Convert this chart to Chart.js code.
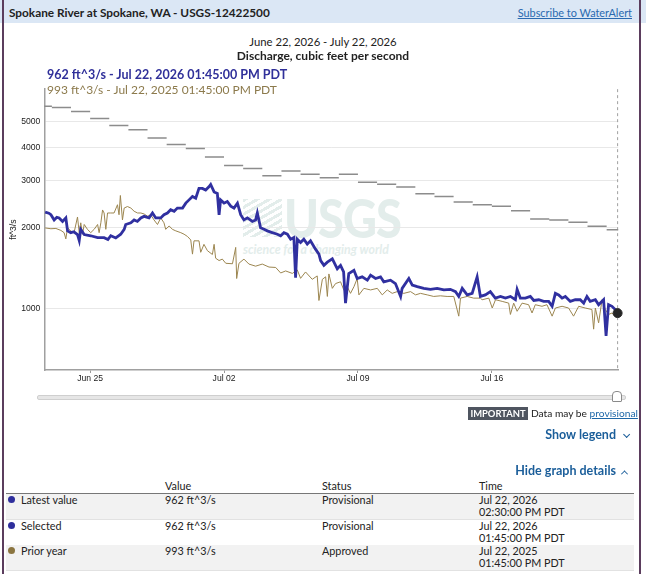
<!DOCTYPE html>
<html>
<head>
<meta charset="utf-8">
<title>Spokane River at Spokane, WA - USGS-12422500</title>
<script src="https://cdn.jsdelivr.net/npm/chart.js@4.4.1/dist/chart.umd.min.js"></script>
<style>
body { margin: 0; background: #fff; font-family: Lato, "Open Sans", sans-serif; color: #222; }
#page { position: relative; width: 646px; height: 574px; overflow: hidden; }
.abs { position: absolute; white-space: nowrap; }
.header { left: 0; top: 0; width: 646px; height: 23px; background: #dbe7f5; }
.side { top: 0; width: 2px; height: 574px; background: #5b3d5d; }
.link { color: #2a6ab0; text-decoration: underline; }
.blue-btn { color: #1b5e9a; font-weight: bold; font-size: 12.5px; }
.chev { display: inline-block; width: 4px; height: 4px; border-right: 1.5px solid #1b5e9a; border-bottom: 1.5px solid #1b5e9a; margin-left: 6px; }
.down { transform: rotate(45deg) translateY(-3px); }
.up { transform: rotate(-135deg) translate(-1px, -1px); }
.row { left: 6px; width: 628px; height: 25px; border-bottom: 1px solid #e2e2e2; }
.cell { font-size: 10.8px; line-height: 12px; }
.dot { width: 7px; height: 7px; border-radius: 50%; }
#chartbox { position: absolute; left: 0; top: 80px; width: 646px; height: 320px; }
</style>
</head>
<body>
<div id="page">
  <div class="abs header"></div>
  <div class="abs" style="left:9px;top:5px;font-size:11.8px;font-weight:bold;line-height:15px;">Spokane River at Spokane, WA - USGS-12422500</div>
  <div class="abs link" style="right:14px;top:5px;font-size:10.9px;line-height:15px;">Subscribe to WaterAlert</div>

  <!-- USGS watermark behind the plot -->
  <div class="abs" style="left:243px;top:199px;width:39px;height:38px;background:repeating-linear-gradient(150deg,#e3edeb 0 3px,#fff 3px 6px);"></div>
  <div class="abs" style="left:284px;top:190px;font-size:47px;font-weight:900;color:#e3edeb;line-height:56px;transform:scaleY(1.12);letter-spacing:-1px;">USGS</div>
  <div class="abs" style="left:243px;top:242px;font-size:12.3px;font-weight:bold;font-style:italic;color:#e3edeb;line-height:15px;">science for a changing world</div>

  <div id="chartbox"><canvas id="flow-chart" width="646" height="320"></canvas></div>

  <div class="abs" style="left:0;width:646px;top:35px;text-align:center;font-size:11.3px;line-height:14px;">June 22, 2026 - July 22, 2026</div>
  <div class="abs" style="left:0;width:646px;top:49px;text-align:center;font-size:12px;font-weight:bold;line-height:14px;">Discharge, cubic feet per second</div>
  <div class="abs" style="left:47px;top:67px;font-size:12.5px;font-weight:bold;color:#30309a;line-height:16px;">962 ft^3/s - Jul 22, 2026 01:45:00 PM PDT</div>
  <div class="abs" style="left:47px;top:82px;font-size:12px;color:#8c7a4c;line-height:16px;">993 ft^3/s - Jul 22, 2025 01:45:00 PM PDT</div>

  <!-- brush slider -->
  <div class="abs" style="left:37px;top:395px;width:587px;height:3px;background:#e6e6e6;border:1px solid #cfcfcf;border-radius:2px;"></div>
  <div class="abs" style="left:612px;top:391px;width:8px;height:9px;background:#fff;border:1px solid #8a8a8a;border-radius:4px 4px 1px 1px;"></div>

  <div class="abs" style="left:468px;top:407px;width:60px;height:13px;background:#4f5560;color:#fff;font-size:9.4px;font-weight:bold;line-height:13px;text-align:center;">IMPORTANT</div>
  <div class="abs" style="left:531px;top:406px;font-size:10.2px;line-height:15px;">Data may be <span class="link" style="color:#1d67a8;">provisional</span></div>

  <div class="abs blue-btn" style="right:19px;top:427px;line-height:16px;">Show legend<span class="chev down"></span></div>
  <div class="abs blue-btn" style="right:19px;top:463px;line-height:16px;">Hide graph details<span class="chev up"></span></div>

  <!-- graph details table -->
  <div class="abs cell" style="left:165px;top:480px;">Value</div>
  <div class="abs cell" style="left:322px;top:480px;">Status</div>
  <div class="abs cell" style="left:479px;top:480px;">Time</div>
  <div class="abs" style="left:6px;top:493px;width:628px;height:1px;background:#777;"></div>

  <div class="abs row" style="top:494px;background:#f2f2f2;"></div>
  <div class="abs row" style="top:520px;background:#fff;"></div>
  <div class="abs row" style="top:545px;background:#f2f2f2;"></div>

  <div class="abs dot" style="left:8px;top:496px;background:#2e2e9c;"></div>
  <div class="abs cell" style="left:21px;top:494px;">Latest value</div>
  <div class="abs cell" style="left:165px;top:494px;">962 ft^3/s</div>
  <div class="abs cell" style="left:322px;top:494px;">Provisional</div>
  <div class="abs cell" style="left:479px;top:494px;">Jul 22, 2026</div>
  <div class="abs cell" style="left:479px;top:506px;">02:30:00 PM PDT</div>

  <div class="abs dot" style="left:8px;top:522px;background:#2e2e9c;"></div>
  <div class="abs cell" style="left:21px;top:520px;">Selected</div>
  <div class="abs cell" style="left:165px;top:520px;">962 ft^3/s</div>
  <div class="abs cell" style="left:322px;top:520px;">Provisional</div>
  <div class="abs cell" style="left:479px;top:520px;">Jul 22, 2026</div>
  <div class="abs cell" style="left:479px;top:532px;">01:45:00 PM PDT</div>

  <div class="abs dot" style="left:8px;top:547px;background:#8b7540;"></div>
  <div class="abs cell" style="left:21px;top:545px;">Prior year</div>
  <div class="abs cell" style="left:165px;top:545px;">993 ft^3/s</div>
  <div class="abs cell" style="left:322px;top:545px;">Approved</div>
  <div class="abs cell" style="left:479px;top:545px;">Jul 22, 2025</div>
  <div class="abs cell" style="left:479px;top:557px;">01:45:00 PM PDT</div>

  <div class="abs side" style="left:2px;"></div>
  <div class="abs side" style="left:639px;"></div>
</div>

<script>
// x values are days since Jun 22 00:00 (local time)
const xTickDays = [3, 10, 17, 24];
const xTickLabels = ['Jun 25', 'Jul 02', 'Jul 09', 'Jul 16'];
const yTicks = [1000, 2000, 3000, 4000, 5000];

// daily median, Jun 22 .. Jul 22
const medianFlow = [5690, 5630, 5440, 5120, 4820, 4650, 4330, 4100, 3960, 3680, 3420, 3330, 3130, 3260, 3170,
    3080, 3170, 2960, 2910, 2840, 2680, 2620, 2500, 2440, 2410, 2320, 2160, 2140, 2100, 2030, 1970];

// 2026 discharge
const currentDays = [0.65, 0.84, 0.95, 1.12, 1.26, 1.38, 1.56, 1.73, 1.82, 1.99, 2.15, 2.34, 2.43, 2.51, 2.69,
    3.03, 3.39, 3.73, 3.93, 4.08, 4.34, 4.50, 4.60, 4.78, 4.86, 5.13, 5.30, 5.47, 5.65, 5.82, 6.08, 6.26, 6.43,
    6.69, 6.86, 7.04, 7.21, 7.39, 7.56, 7.83, 8.00, 8.17, 8.35, 8.52, 8.69, 8.87, 9.04, 9.21, 9.30, 9.48, 9.65,
    9.74, 9.82, 10.00, 10.17, 10.35, 10.52, 10.70, 10.87, 11.04, 11.22, 11.48, 11.65, 11.74, 11.91, 12.09, 12.26,
    12.52, 12.79, 12.96, 13.13, 13.31, 13.48, 13.65, 13.74, 13.83, 14.00, 14.17, 14.35, 14.52, 14.78, 14.96,
    15.05, 15.22, 15.40, 15.66, 15.92, 16.09, 16.25, 16.35, 16.52, 16.79, 16.96, 17.22, 17.49, 17.66, 17.92,
    18.18, 18.35, 18.70, 18.96, 19.23, 19.31, 19.66, 19.84, 20.10, 20.44, 20.79, 21.14, 21.49, 21.83, 22.10,
    22.27, 22.45, 22.71, 22.97, 23.23, 23.40, 23.66, 23.92, 24.18, 24.45, 24.71, 24.97, 25.23, 25.32, 25.49,
    25.75, 26.01, 26.19, 26.45, 26.71, 26.97, 27.15, 27.32, 27.49, 27.67, 27.84, 28.10, 28.36, 28.62, 28.80,
    28.97, 29.14, 29.41, 29.58, 29.84, 29.97, 30.10, 30.28, 30.45, 30.573];
const currentFlow = [2290, 2270, 2240, 2140, 2190, 2180, 2115, 2180, 1950, 1920, 1935, 1890, 1795, 1975, 1890,
    1870, 1840, 1840, 1810, 1870, 1835, 1873, 1895, 1976, 2060, 2090, 2142, 2115, 2180, 2209, 2180, 2274, 2180,
    2180, 2240, 2274, 2340, 2308, 2372, 2372, 2475, 2545, 2619, 2581, 2809, 2809, 2769, 2849, 2904, 2725, 2692,
    2236, 2545, 2475, 2510, 2413, 2372, 2475, 2240, 2142, 2180, 2115, 2142, 2274, 2003, 1976, 1950,
    1920, 1895, 1868, 1920, 1895, 1816, 1841, 1303, 1816, 1765, 1816, 1740, 1790, 1667, 1597,
    1511, 1450, 1491, 1533, 1408, 1450, 1370, 1048, 1350, 1390, 1295, 1314, 1277, 1333, 1295,
    1314, 1259, 1277, 1240, 1110, 1190, 1295, 1224, 1207, 1190, 1180, 1190, 1174, 1180, 1157,
    1110, 1190, 1125, 1140, 1314, 1110, 1125, 1157, 1094, 1110, 1094, 1110, 1079, 1180, 1094,
    1094, 1110, 1072, 1079, 1064, 1064, 1020, 1140, 1125, 1094, 1110, 1064, 1079, 1079, 1048,
    1110, 1064, 1079, 1034, 1079, 791, 1034, 1020, 991, 962];

// 2025 discharge (prior year)
const priorDays = [0.65, 0.95, 1.21, 1.47, 1.64, 1.73, 1.82, 1.99, 2.16, 2.34, 2.43, 2.51, 2.60, 2.69, 2.86,
    3.03, 3.21, 3.39, 3.47, 3.56, 3.65, 3.73, 3.82, 3.91, 4.08, 4.25, 4.43, 4.51, 4.58, 4.69, 4.78, 4.95, 5.13,
    5.30, 5.48, 5.65, 5.82, 6.00, 6.17, 6.34, 6.52, 6.69, 6.86, 6.95, 7.13, 7.30, 7.48, 7.74, 7.91, 8.09, 8.26,
    8.35, 8.43, 8.69, 8.78, 8.95, 9.13, 9.39, 9.48, 9.56, 9.74, 9.91, 10.09, 10.44, 10.61, 10.66, 10.78, 11.04,
    11.30, 11.65, 12.00, 12.35, 12.70, 12.96, 13.22, 13.57, 13.83, 14.00, 14.26, 14.61, 14.87, 14.96, 15.14,
    15.31, 15.40, 15.48, 15.66, 15.83, 16.09, 16.26, 16.44, 16.61, 16.79, 16.96, 17.05, 17.31, 17.66, 18.01,
    18.27, 18.53, 18.79, 19.05, 19.40, 19.75, 20.01, 20.27, 20.62, 20.96, 21.31, 21.66, 22.01, 22.27, 22.36,
    22.71, 23.05, 23.40, 23.49, 23.84, 24.02, 24.19, 24.54, 24.88, 24.97, 25.14, 25.32, 25.58, 25.92, 26.10,
    26.27, 26.62, 26.88, 27.15, 27.32, 27.67, 28.01, 28.27, 28.54, 28.88, 29.23, 29.32, 29.41, 29.58, 29.76,
    29.93, 30.10, 30.28, 30.45, 30.573];
const priorFlow = [2000, 1986, 1991, 1958, 1920, 1820, 2003, 1947, 1920, 2197, 1920, 2090, 1895, 2060, 1976,
    1920, 1976, 2060, 1920, 2090, 2334, 2274, 1976, 2274, 2274, 2274, 2441, 2240, 2643, 2142, 2372, 2404, 2372,
    2308, 2274, 2274, 2255, 2212, 2240, 2142, 2060, 2180, 2090, 1976, 2034, 1976, 1950, 1920, 1895, 1858, 1804,
    1597, 1790, 1790, 1622, 1737, 1645, 1592, 1737, 1542, 1511, 1530, 1476, 1470, 1692, 1295, 1476, 1530,
    1466, 1440, 1466, 1429, 1424, 1358, 1382, 1353, 1393, 1297, 1370, 1286, 1324, 1072, 1286,
    1314, 1110, 1347, 1190, 1240, 1259, 1174, 1207, 1140, 1207, 1295, 1125, 1190, 1174, 1190,
    1125, 1174, 1140, 1157, 1140, 1157, 1125, 1140, 1125, 1110, 1116, 1110, 1110, 937, 1094,
    1110, 1094, 1094, 1079, 1094, 1005, 1079, 1064, 1048, 951, 1048, 977, 1048, 1034, 963,
    1034, 1020, 1034, 937, 1005, 1020, 1005, 937, 1020, 1005, 992, 838, 1005, 885, 1079,
    992, 951, 963, 937, 993];

const selectedDay = 30.573;   // Jul 22 01:45 PM
const selectedFlow = 962;

var medianPoints = [];
medianFlow.forEach((v, d) => {
    medianPoints.push({x: d, y: v}, {x: d + 1, y: v}, {x: d + 1, y: null});
});

function toPoints(days, flows) {
    return days.map((d, i) => ({x: d, y: flows[i]}));
}

// dashed vertical line at the selected time
const cursorLine = {
    id: 'cursorLine',
    beforeDatasetsDraw(chart) {
        const ctx = chart.ctx;
        const x = chart.scales.x.getPixelForValue(selectedDay);
        ctx.save();
        ctx.strokeStyle = '#a0a0a0';
        ctx.lineWidth = 1;
        ctx.setLineDash([3, 3]);
        ctx.beginPath();
        ctx.moveTo(x, chart.chartArea.top);
        ctx.lineTo(x, chart.chartArea.bottom);
        ctx.stroke();
        ctx.restore();
    }
};

var flow_chart = document.getElementById('flow-chart').getContext('2d');

var chart_flow = new Chart(flow_chart, {
    type: 'line',
    data: {
        datasets: [{
            label: 'Selected',
            data: [{x: selectedDay, y: selectedFlow}],
            showLine: false,
            pointRadius: 4.5,
            pointBackgroundColor: '#262626',
            pointBorderColor: '#262626',
            clip: false,
            order: 0
        }, {
            label: 'Discharge 2026',
            data: toPoints(currentDays, currentFlow),
            borderColor: '#3030a0',
            borderWidth: 2.8,
            pointRadius: 0,
            tension: 0,
            order: 1
        }, {
            label: 'Prior year',
            data: toPoints(priorDays, priorFlow),
            borderColor: '#9c8650',
            borderWidth: 1,
            pointRadius: 0,
            tension: 0,
            order: 2
        }, {
            label: 'Median',
            data: medianPoints,
            borderColor: '#8c8c8c',
            borderWidth: 1.5,
            pointRadius: 0,
            spanGaps: false,
            order: 3
        }]
    },
    options: {
        responsive: false,
        maintainAspectRatio: false,
        animation: false,
        layout: { padding: { left: 0, right: 27.8, top: 4, bottom: 10 } },
        plugins: {
            legend: { display: false },
            tooltip: { enabled: false }
        },
        scales: {
            x: {
                type: 'linear',
                min: 0.604,
                max: 30.604,
                afterBuildTicks: scale => { scale.ticks = xTickDays.map(v => ({ value: v })); },
                afterFit: scale => { scale.height = 20; },
                ticks: {
                    callback: (v, i) => xTickLabels[i],
                    font: { family: 'Liberation Sans', size: 8.6 },
                    color: '#222',
                    padding: 0,
                    maxRotation: 0,
                    autoSkip: false
                },
                grid: { drawOnChartArea: false, tickLength: 3, color: '#999' },
                border: { color: '#a0a0a0', width: 1.5 }
            },
            y: {
                type: 'logarithmic',
                min: 590,
                max: 6590,
                afterBuildTicks: scale => { scale.ticks = yTicks.map(v => ({ value: v })); },
                afterFit: scale => { scale.width = 44.3; },
                ticks: {
                    callback: v => String(v),
                    font: { family: 'Liberation Sans', size: 8.6 },
                    color: '#222',
                    padding: 4
                },
                grid: { drawTicks: false, color: '#e8e8e8' },
                border: { color: '#a0a0a0', width: 1.5 },
                title: {
                    display: true,
                    text: 'ft^3/s',
                    font: { family: 'Liberation Sans', size: 8.6 },
                    color: '#222',
                    padding: { top: 8, bottom: 0 }
                }
            }
        }
    },
    plugins: [cursorLine]
});
</script>
</body>
</html>
